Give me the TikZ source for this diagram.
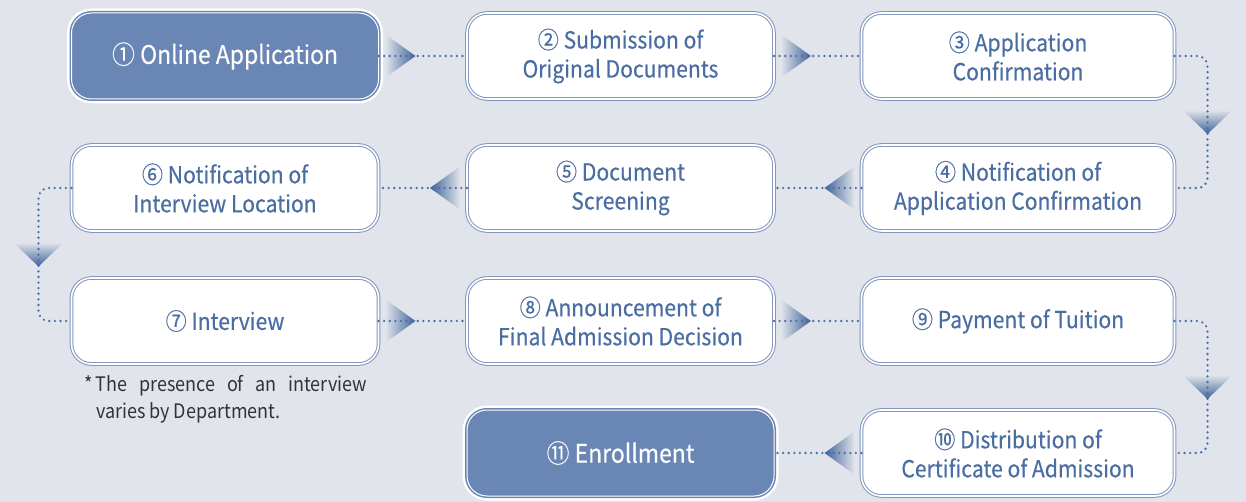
\documentclass[tikz,border=0pt]{standalone}
\usepackage{fontspec}
\setmainfont{Noto Sans CJK KR}[FakeStretch=0.9, FakeBold=0.3]
\newfontfamily\notefont{Noto Sans CJK KR}[FakeStretch=0.9]
\usetikzlibrary{calc}

\definecolor{pagebg}{HTML}{E1E4EB}
\definecolor{boxline}{HTML}{8296BF}
\definecolor{boxtext}{HTML}{4A6DA3}
\definecolor{boxfill}{HTML}{6986B4}
\definecolor{dotblue}{HTML}{4B6FA6}
\definecolor{tipblue}{HTML}{3D6299}
\definecolor{notegray}{HTML}{333333}

\begin{document}
\begin{tikzpicture}[x=1pt, y=-1pt,
  every node/.style={outer sep=0pt},
  frame/.style={rectangle, rounded corners=20pt, minimum width=307pt, minimum height=86pt,
    align=center, font=\fontsize{23.5}{29}\selectfont},
  stage/.style={frame, draw=boxline, line width=1pt, double=white, double distance=1.6pt,
    fill=white, text=boxtext},
  lead/.style={frame, fill=boxfill, draw=white, line width=1pt, text=white,
    font=\fontsize{25.5}{29}\selectfont,
    preaction={draw=white, line width=9pt}, preaction={draw=boxfill, line width=4pt}},
  wide/.style={minimum width=313pt},
  link/.style={dotblue, line width=2.6pt, line cap=round, dash pattern=on 0pt off 5.6pt,
    rounded corners=10pt},
  tipright/.style={left color=pagebg, right color=tipblue},
  tipleft/.style={left color=tipblue, right color=pagebg},
  tipdown/.style={top color=pagebg, bottom color=tipblue},
  note/.style={text=notegray, text width=271pt, align=justify, inner sep=0pt,
    font=\notefont\fontsize{20}{27}\selectfont}]

\fill[pagebg] (0,0) rectangle (1246,502);

\node[lead] (box1) at (225,56) {① Online Application};
\node[stage] (box2) at (620.5,56) {② Submission of\\Original Documents};
\node[stage, wide] (box3) at (1018,56) {③ Application\\Confirmation};

\node[stage, wide] (box4) at (1018,188) {④ Notification of\\Application Confirmation};
\node[stage] (box5) at (620.5,188) {⑤ Document\\Screening};
\node[stage] (box6) at (225,188) {⑥ Notification of\\Interview Location};

\node[stage] (box7) at (225,321) {⑦ Interview};
\node[stage] (box8) at (620.5,321) {⑧ Announcement of\\Final Admission Decision};
\node[stage, wide] (box9) at (1018,321) {⑨ Payment of Tuition};

\node[stage, wide] (box10) at (1018,453) {⑩ Distribution of\\Certificate of Admission};
\node[lead] (box11) at (620.5,453) {⑪ Enrollment};

\node[note, anchor=north west] (remark) at (96,375)
  {\llap{*\,}The presence of an interview\linebreak varies by Department.};

\foreach \a/\b in {box1/box2, box2/box3, box7/box8, box8/box9} {
  \shade[tipright] ($(\a.east)+(7,-21.5)$) -- ($(\a.east)+(37,0)$) -- ($(\a.east)+(7,21.5)$) -- cycle;
  \draw[link] (\a.east) -- (\b.west);
}
\foreach \a/\b in {box4/box5, box5/box6, box10/box11} {
  \shade[tipleft] ($(\a.west)+(-7,-21.5)$) -- ($(\a.west)+(-37,0)$) -- ($(\a.west)+(-7,21.5)$) -- cycle;
  \draw[link] (\a.west) -- (\b.east);
}

\coordinate (turn1) at ($(box3.east)!0.5!(box4.east)+(33,0)$);
\coordinate (turn2) at ($(box6.west)!0.5!(box7.west)+(-33,0)$);
\coordinate (turn3) at ($(box9.east)!0.5!(box10.east)+(33,0)$);
\foreach \m in {turn1, turn2, turn3}
  \shade[tipdown] ($(\m)+(-25,-12)$) -- ($(\m)+(25,-12)$) -- ($(\m)+(0,12)$) -- cycle;

\draw[link] (box3.east) -- ++(33,0) |- (box4.east);
\draw[link] (box6.west) -- ++(-33,0) |- (box7.west);
\draw[link] (box9.east) -- ++(33,0) |- (box10.east);
\end{tikzpicture}
\end{document}
